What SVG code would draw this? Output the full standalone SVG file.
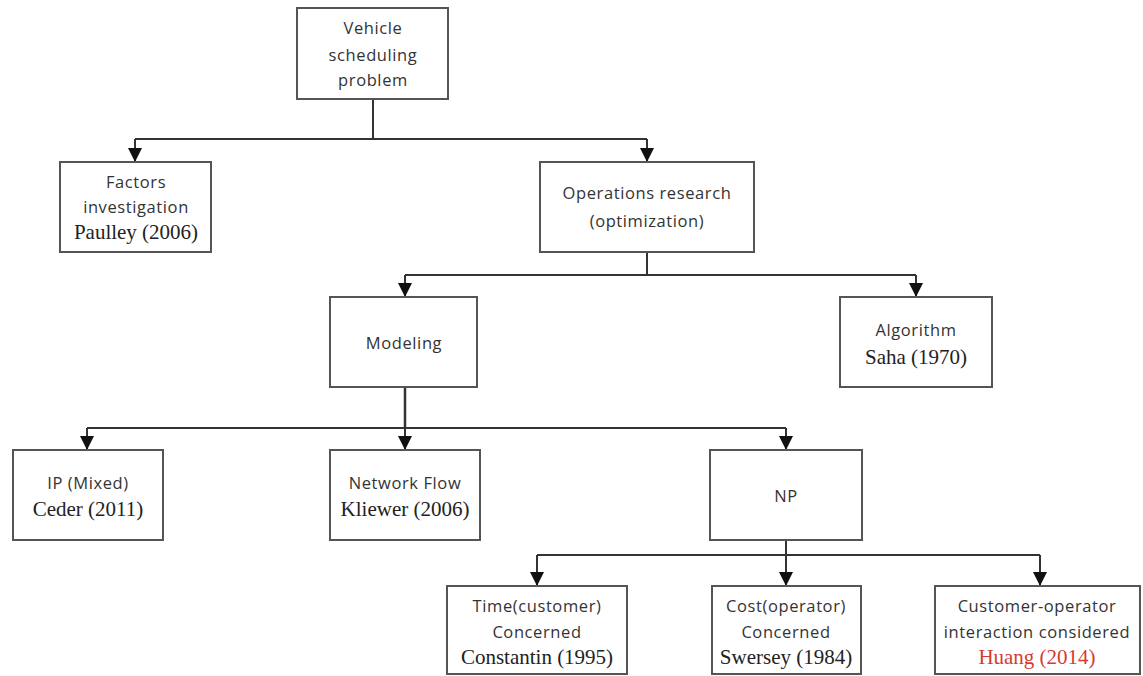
<svg xmlns="http://www.w3.org/2000/svg" width="1143" height="676" viewBox="0 0 1143 676">
<defs>
<style>
.box{fill:#fff;stroke:#555;stroke-width:2}
.s{font-family:"Open Sans","Liberation Sans",sans-serif;font-size:16.5px;fill:#333;text-anchor:middle;letter-spacing:0.6px}
.r{font-family:"Liberation Serif",serif;font-size:21px;fill:#222;text-anchor:middle}
.red{fill:#d83a30}
.c{fill:none;stroke:#333;stroke-width:2}
</style>
<marker id="ah" viewBox="0 0 14 14" refX="14" refY="7" markerWidth="14" markerHeight="14" markerUnits="userSpaceOnUse" orient="auto">
<path d="M0,0 L14,7 L0,14 Z" fill="#111"/>
</marker>
</defs>
<rect width="1143" height="676" fill="#fff"/>
<g id="connectors">
<path class="c" d="M373,99 V139"/>
<path class="c" d="M135,139 H647"/>
<path class="c" d="M135,139 V162" marker-end="url(#ah)"/>
<path class="c" d="M647,139 V162" marker-end="url(#ah)"/>
<path class="c" d="M647,252 V275"/>
<path class="c" d="M405,275 H916"/>
<path class="c" d="M405,275 V297" marker-end="url(#ah)"/>
<path class="c" d="M916,275 V297" marker-end="url(#ah)"/>
<path class="c" d="M405,387 V428" style="stroke-width:2.5"/>
<path class="c" d="M87,428 H786"/>
<path class="c" d="M87,428 V450" marker-end="url(#ah)"/>
<path class="c" d="M405,428 V450" marker-end="url(#ah)"/>
<path class="c" d="M786,428 V450" marker-end="url(#ah)"/>
<path class="c" d="M786,540 V555"/>
<path class="c" d="M537,555 H1040"/>
<path class="c" d="M537,555 V586" marker-end="url(#ah)"/>
<path class="c" d="M786,555 V586" marker-end="url(#ah)"/>
<path class="c" d="M1040,555 V586" marker-end="url(#ah)"/>
</g>
<g id="vsp">
<rect class="box" x="297" y="8" width="151" height="91"/>
<text class="s" x="373" y="34">Vehicle</text>
<text class="s" x="373" y="61">scheduling</text>
<text class="s" x="373" y="86">problem</text>
</g>
<g id="factors">
<rect class="box" x="60" y="162" width="151" height="90"/>
<text class="s" x="136" y="188">Factors</text>
<text class="s" x="136" y="213">investigation</text>
<text class="r" x="136" y="239">Paulley (2006)</text>
</g>
<g id="operations">
<rect class="box" x="540" y="162" width="214" height="90"/>
<text class="s" x="647" y="199">Operations research</text>
<text class="s" x="647" y="227">(optimization)</text>
</g>
<g id="modeling">
<rect class="box" x="330" y="297" width="147" height="90"/>
<text class="s" x="404" y="349">Modeling</text>
</g>
<g id="algorithm">
<rect class="box" x="840" y="297" width="152" height="90"/>
<text class="s" x="916" y="336">Algorithm</text>
<text class="r" x="916" y="364">Saha (1970)</text>
</g>
<g id="ip">
<rect class="box" x="13" y="450" width="150" height="90"/>
<text class="s" x="88" y="489">IP (Mixed)</text>
<text class="r" x="88" y="516">Ceder (2011)</text>
</g>
<g id="network">
<rect class="box" x="330" y="450" width="150" height="90"/>
<text class="s" x="405" y="489">Network Flow</text>
<text class="r" x="405" y="516">Kliewer (2006)</text>
</g>
<g id="np">
<rect class="box" x="710" y="450" width="152" height="90"/>
<text class="s" x="786" y="502">NP</text>
</g>
<g id="time">
<rect class="box" x="447" y="586" width="180" height="88"/>
<text class="s" x="537" y="612">Time(customer)</text>
<text class="s" x="537" y="638">Concerned</text>
<text class="r" x="537" y="664">Constantin (1995)</text>
</g>
<g id="cost">
<rect class="box" x="712" y="586" width="149" height="88"/>
<text class="s" x="786" y="612">Cost(operator)</text>
<text class="s" x="786" y="638">Concerned</text>
<text class="r" x="786" y="664">Swersey (1984)</text>
</g>
<g id="customer">
<rect class="box" x="935" y="586" width="205" height="88"/>
<text class="s" x="1037" y="612">Customer-operator</text>
<text class="s" x="1037" y="638">interaction considered</text>
<text class="r red" x="1037" y="664">Huang (2014)</text>
</g>
</svg>
